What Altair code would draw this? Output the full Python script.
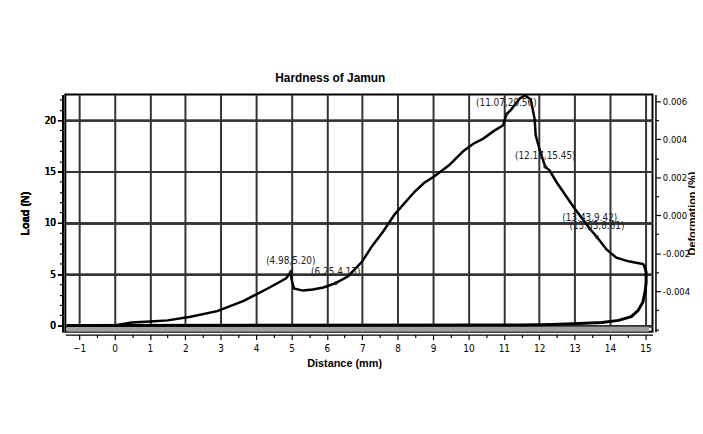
import altair as alt
import pandas as pd

# Loading curve: distance (mm) vs load (N)
load_x = [0.0, 0.48, 1.0, 1.5, 2.15, 2.9, 3.65, 4.38, 4.85, 4.98, 5.0, 5.07, 5.32, 5.6, 5.9,
          6.25, 6.6, 6.99, 7.27, 7.6, 7.91, 8.47, 8.75, 9.03, 9.45, 9.86, 10.14, 10.42, 10.7,
          10.98, 11.07, 11.2, 11.45, 11.6, 11.76, 11.87, 11.9, 12.04, 12.17, 12.29, 12.5,
          13.0, 13.43, 13.63, 13.9, 14.18, 14.52, 14.96]
load_y = [0.0, 0.3, 0.4, 0.5, 0.85, 1.4, 2.4, 3.7, 4.6, 5.2, 4.5, 3.6, 3.4, 3.5, 3.7,
          4.13, 4.8, 6.2, 7.7, 9.2, 10.8, 13.0, 13.9, 14.5, 15.6, 17.0, 17.7, 18.2, 18.9,
          19.5, 20.56, 21.0, 22.1, 22.4, 22.0, 20.1, 18.5, 16.8, 15.45, 15.1, 13.9,
          11.4, 9.42, 8.61, 7.4, 6.6, 6.25, 5.96]

# Unloading / return path
ret_x = [14.96, 15.02, 15.02, 14.99, 14.93, 14.79, 14.6, 14.24, 13.77, 13.12, 12.37, 11.5, -1.35]
ret_y = [5.96, 5.2, 4.2, 3.3, 2.3, 1.45, 0.87, 0.5, 0.3, 0.2, 0.1, 0.05, 0.0]

# Deformation trace (right axis)
def_x = [-1.35, 15.1]
def_y = [-0.0060, -0.0060]

# Annotated points
ann_x = [4.98, 6.25, 11.07, 12.17, 13.43, 13.63]
ann_y = [5.20, 4.13, 20.56, 15.45, 9.42, 8.61]
ann_text = ["(4.98,5.20)", "(6.25,4.13)", "(11.07,20.56)", "(12.17,15.45)", "(13.43,9.42)", "(13.63,8.61)"]

x_ticks = list(range(-1, 16))
x_minor = [-0.5, 0.5, 1.5, 2.5, 3.5, 4.5, 5.5, 6.5, 7.5, 8.5, 9.5, 10.5, 11.5, 12.5, 13.5, 14.5]
y_ticks = [0, 5, 10, 15, 20]
y_minor = [1, 2, 3, 4, 6, 7, 8, 9, 11, 12, 13, 14, 16, 17, 18, 19, 21, 22]
y2_ticks = [-0.004, -0.002, 0.0, 0.002, 0.004, 0.006]
y2_minor = [-0.006, -0.005, -0.003, -0.001, 0.001, 0.003, 0.005]

FONT = "DejaVu Sans Condensed, Liberation Sans Narrow, Liberation Sans, sans-serif"
TFONT = "Liberation Sans, Arial, sans-serif"

load_df = pd.DataFrame({"x": load_x, "y": load_y, "o": range(len(load_x))})
ret_df = pd.DataFrame({"x": ret_x, "y": ret_y, "o": range(len(ret_x))})
def_df = pd.DataFrame({"x": def_x, "d": def_y})
ann_df = pd.DataFrame({"x": ann_x, "y": ann_y, "t": ann_text})

xscale = alt.Scale(domain=[-1.39, 15.2], nice=False, zero=False)
yscale = alt.Scale(domain=[-0.6, 22.5], nice=False, zero=False)
y2scale = alt.Scale(domain=[-0.00613, 0.00636], nice=False, zero=False)

x_axis = alt.Axis(
    title="Distance (mm)", orient="bottom", values=x_ticks, labelOverlap=False, labelFlush=False,
    grid=True, offset=3, labelPadding=4, titlePadding=4, titleX=282, tickSize=5,
)
x_axis_minor = alt.Axis(
    title=None, orient="bottom", values=x_minor, labels=False, grid=False, domain=False,
    offset=3, tickSize=3,
)
y_axis = alt.Axis(
    title="Load (N)", orient="left", values=y_ticks, labelOverlap=False, labelFlush=False,
    grid=True, offset=3, titlePadding=14, tickSize=5,
)
y_axis_minor = alt.Axis(
    title=None, orient="left", values=y_minor, labels=False, grid=False, domain=False,
    offset=3, tickSize=3,
)
y2_axis = alt.Axis(
    title="Deformation (%)", orient="right", values=y2_ticks,
    labelOverlap=False, labelFlush=False, labelFontSize=9.5,
    labelExpr="replace(format(datum.value, '.3f'), '\u2212', '-')",
    grid=False, offset=3, titlePadding=8, titleAngle=270, tickSize=5,
)
y2_axis_minor = alt.Axis(
    title=None, orient="right", values=y2_minor, labels=False, grid=False, domain=False,
    offset=3, tickSize=3,
)

# right-axis group: deformation trace + minor ticks (x minor, y2 minor)
def_line = alt.Chart(def_df).mark_line(color="#a0a0a0", strokeWidth=5).encode(
    x=alt.X("x:Q", scale=xscale, axis=None),
    y=alt.Y("d:Q", scale=y2scale, axis=y2_axis),
)
def_minor = alt.Chart(def_df).mark_point(opacity=0).encode(
    x=alt.X("x:Q", scale=xscale, axis=x_axis_minor),
    y=alt.Y("d:Q", scale=y2scale, axis=y2_axis_minor),
)
def_group = alt.layer(def_line, def_minor).resolve_axis(x="independent", y="independent")

# left-axis group: load curves and annotations
X = alt.X("x:Q", scale=xscale, axis=x_axis)
load_line = alt.Chart(load_df).mark_line(color="black", strokeWidth=2.5).encode(
    x=X,
    y=alt.Y("y:Q", scale=yscale, axis=y_axis),
    order="o:Q",
)
ret_line = alt.Chart(ret_df).mark_line(color="black", strokeWidth=3).encode(
    x=X,
    y=alt.Y("y:Q", scale=yscale, axis=y_axis),
    order="o:Q",
)
pts = alt.Chart(ann_df).mark_point(shape="circle", size=18, filled=True, color="#222").encode(
    x=X,
    y=alt.Y("y:Q", scale=yscale, axis=y_axis),
)
txt = alt.Chart(ann_df).mark_text(fontSize=10, font=FONT, color="#222", dy=-11, align="center").encode(
    x=X,
    y=alt.Y("y:Q", scale=yscale, axis=y_axis),
    text="t:N",
)
load_minor = alt.Chart(load_df).mark_point(opacity=0).encode(
    x=X,
    y=alt.Y("y:Q", scale=yscale, axis=y_axis_minor),
)
left = alt.layer(load_line, ret_line, pts, txt, load_minor).resolve_axis(y="independent")

chart = alt.layer(def_group, left).resolve_scale(y="independent").resolve_axis(x="independent").properties(
    width=594, height=240,
    autosize=alt.AutoSizeParams(type="none"),
    padding={"left": 58, "top": 85, "right": 43, "bottom": 93},
    title=alt.TitleParams("Hardness of Jamun", fontSize=12, fontWeight="bold", font=TFONT,
                          dx=-29, offset=6, anchor="middle", color="black"),
).configure_view(stroke="black", strokeWidth=2).configure_axis(
    labelFont=FONT, labelFontSize=10, labelColor="black",
    titleFont=TFONT, titleFontSize=11, titleFontWeight="bold", titleColor="black",
    gridColor="#333333", gridWidth=2, domainColor="black", domainWidth=1.5,
    tickColor="black", tickWidth=1.2,
)

chart.save("out.html", embed_options={"renderer": "svg", "actions": False})
